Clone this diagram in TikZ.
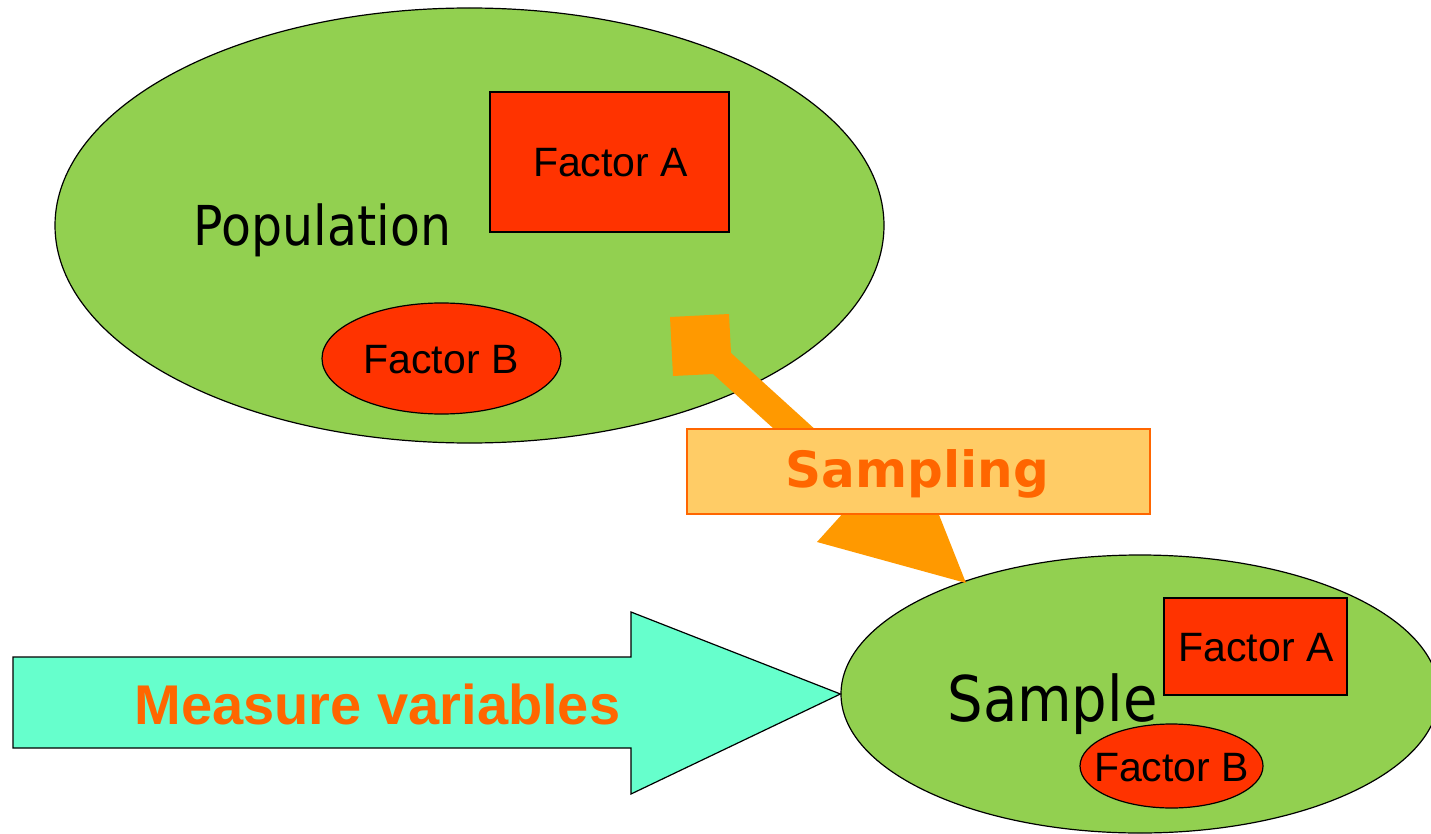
\documentclass[tikz,border=0pt]{standalone}
\usepackage{fontspec}
\setmainfont{Liberation Sans}
\newfontfamily\humanist{DejaVu Sans}[FakeStretch=0.89]
\newfontfamily\humanistbold{DejaVu Sans Bold}
\usetikzlibrary{shapes.geometric}

\definecolor{leaf}{HTML}{92D050}
\definecolor{factorred}{HTML}{FF3300}
\definecolor{flow}{HTML}{FF9900}
\definecolor{labelorange}{HTML}{FF6600}
\definecolor{boxfill}{HTML}{FFCC66}
\definecolor{aqua}{HTML}{66FFCC}

\tikzset{
  setshape/.style={ellipse, draw=black, fill=leaf, line width=1.2pt, inner sep=0pt},
  factorbox/.style={rectangle, draw=black, fill=factorred, line width=1.2pt, inner sep=0pt},
  factorell/.style={ellipse, draw=black, fill=factorred, line width=1.2pt, inner sep=0pt},
  factortext/.style={anchor=base, inner sep=0pt, font=\fontsize{41}{48}\selectfont},
  setname/.style={anchor=base, inner sep=0pt},
  steplabel/.style={anchor=base, inner sep=0pt, text=labelorange},
}

\begin{document}
\begin{tikzpicture}[x=1pt, y=-1pt]
\useasboundingbox (0,0) rectangle (1431,834);
\clip (0,0) rectangle (1431,834);

% population with its two factors
\node[setshape, minimum width=829pt, minimum height=435pt] (pop) at (469.5,225.5) {};
\node[factorbox, minimum width=239pt, minimum height=140pt] (popA) at (609.5,162) {};
\node[factorell, minimum width=239pt, minimum height=111pt] (popB) at (441.5,358.5) {};
\node[setname, font=\humanist\fontsize{55}{60}\selectfont] (popname) at (322.5,246) {Population};
\node[factortext] (popAtext) at (610.5,177) {Factor A};
\node[factortext] (popBtext) at (441,373.5) {Factor B};

% sample with its two factors
\node[setshape, minimum width=598pt, minimum height=278pt] (samp) at (1140,694) {};
\node[factorbox, minimum width=183pt, minimum height=97pt] (sampA) at (1255.5,646.5) {};
\node[factorell, minimum width=183pt, minimum height=84pt] (sampB) at (1171.5,766) {};
\node[setname, font=\humanist\fontsize{63}{70}\selectfont] (sampname) at (1052.5,721) {Sample};
\node[factortext] (sampAtext) at (1256,661.5) {Factor A};
\node[factortext] (sampBtext) at (1171.5,781) {Factor B};

% block arrow from population to sample, square tail
\fill[flow] (670,317) -- (729,314) -- (731,353) -- (872,481) -- (909,439)
  -- (966,583) -- (817,542) -- (854,501) -- (713,374) -- (673,376) -- cycle;

% sampling label box
\node[draw=labelorange, fill=boxfill, line width=1.2pt, inner sep=0pt,
      minimum width=463pt, minimum height=85pt] (sampbox) at (918.5,471.5) {};
\node[steplabel, font=\humanistbold\fontsize{50}{56}\selectfont] (samptext) at (917.5,487) {Sampling};

% measurement arrow pointing at the sample
\draw[fill=aqua, line width=1.2pt, line join=miter]
  (13,657) -- (631,657) -- (631,612) -- (samp.west) -- (631,794) -- (631,748) -- (13,748) -- cycle;
\node[steplabel, font=\bfseries\fontsize{56}{64}\selectfont] (measuretext) at (377.5,724) {Measure variables};
\end{tikzpicture}
\end{document}
